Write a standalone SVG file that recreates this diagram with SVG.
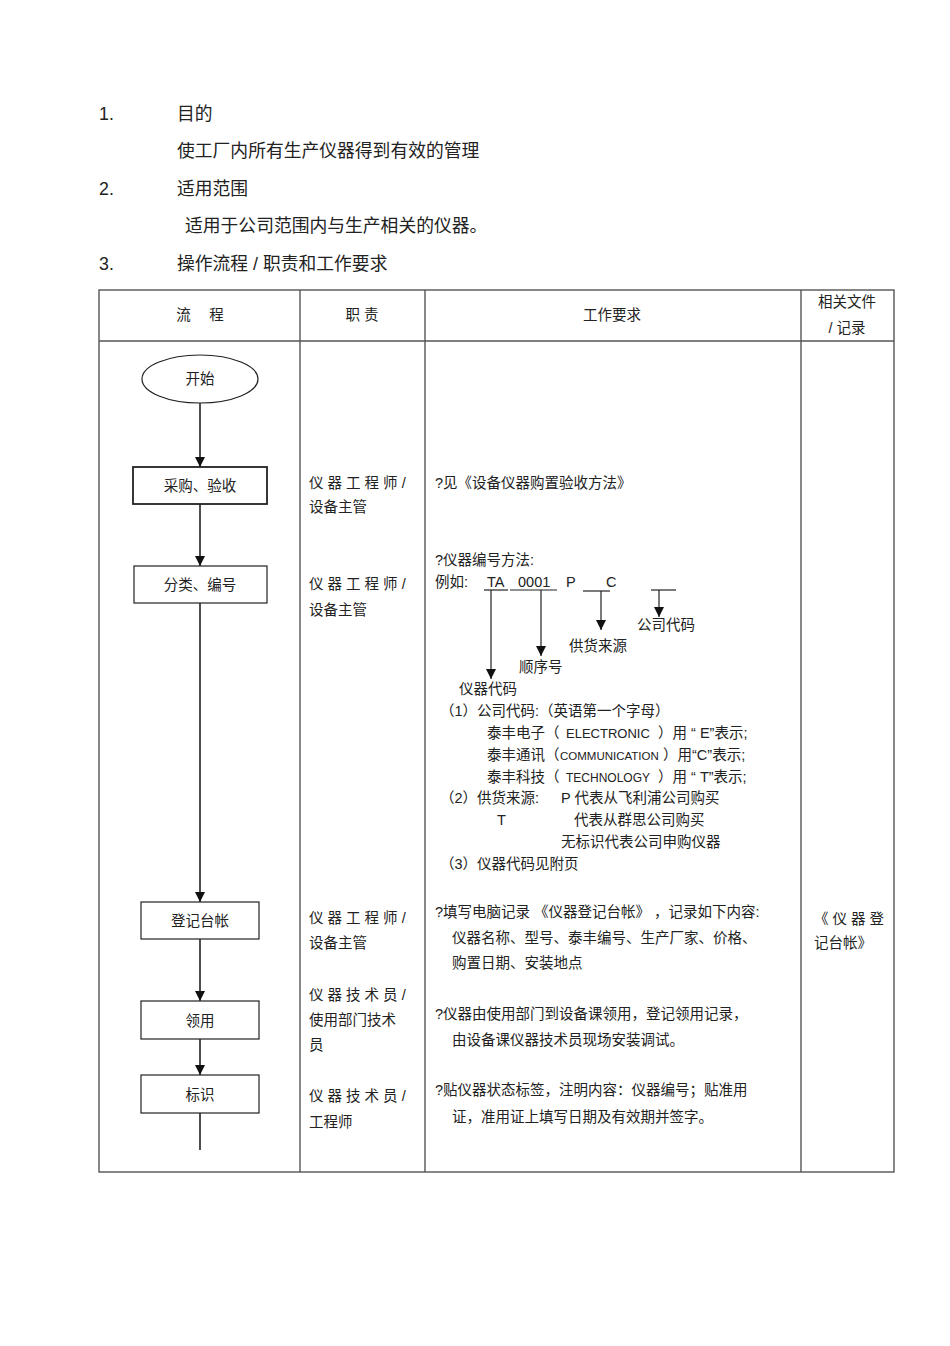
<svg xmlns="http://www.w3.org/2000/svg" width="950" height="1346" viewBox="0 0 950 1346">
<defs>
<marker id="ad" markerWidth="10" markerHeight="11" refX="10" refY="5" orient="auto" markerUnits="userSpaceOnUse" viewBox="0 0 10 10">
<path d="M0,0 L10,5 L0,10 Z" fill="#111"/>
</marker>
<style>
text{font-family:"Liberation Sans","Noto Sans CJK SC",sans-serif;fill:#222;}
.h{font-size:17.8px;}
.t{font-size:14.5px;}
.grid{stroke:#555;stroke-width:1.4;fill:none;}
.node{fill:#fff;stroke:#222;stroke-width:1.2;}
.conn{stroke:#222;stroke-width:1.6;fill:none;}
.thin{stroke:#222;stroke-width:1.2;fill:none;}
.c{text-anchor:middle;}
</style>
</defs>
<rect width="950" height="1346" fill="#fff"/>

<g id="intro">
<text class="h" x="99" y="120">1.</text>
<text class="h" x="177" y="120">目的</text>
<text class="h" x="177" y="157">使工厂内所有生产仪器得到有效的管理</text>
<text class="h" x="99" y="195">2.</text>
<text class="h" x="177" y="195">适用范围</text>
<text class="h" x="185" y="232">适用于公司范围内与生产相关的仪器。</text>
<text class="h" x="99" y="270">3.</text>
<text class="h" x="177" y="270">操作流程 / 职责和工作要求</text>
</g>

<g id="table">
<rect class="grid" x="99" y="290" width="795" height="882"/>
<line class="grid" x1="99" y1="341" x2="894" y2="341"/>
<line class="grid" x1="300" y1="290" x2="300" y2="1172"/>
<line class="grid" x1="425" y1="290" x2="425" y2="1172"/>
<line class="grid" x1="801" y1="290" x2="801" y2="1172"/>
<text class="t c" x="200" y="320">流　 程</text>
<text class="t c" x="362" y="320">职 责</text>
<text class="t c" x="612" y="320">工作要求</text>
<text class="t c" x="847" y="307">相关文件</text>
<text class="t c" x="847" y="333">/ 记录</text>
</g>

<g id="connectors">
<line class="conn" x1="200" y1="403" x2="200" y2="467" marker-end="url(#ad)"/>
<line class="conn" x1="200" y1="504" x2="200" y2="566" marker-end="url(#ad)"/>
<line class="conn" x1="200" y1="603" x2="200" y2="902" marker-end="url(#ad)"/>
<line class="conn" x1="200" y1="939" x2="200" y2="1001" marker-end="url(#ad)"/>
<line class="conn" x1="200" y1="1039" x2="200" y2="1075" marker-end="url(#ad)"/>
<line class="conn" x1="200" y1="1113" x2="200" y2="1150"/>
</g>

<g id="n-start">
<ellipse class="node" cx="200" cy="379" rx="58" ry="24"/>
<text class="t c" x="200" y="384">开始</text>
</g>
<g id="n-purchase">
<rect class="node" x="133" y="467" width="134" height="37" style="stroke-width:1.8"/>
<text class="t c" x="200" y="491">采购、验收</text>
</g>
<g id="n-classify">
<rect class="node" x="134" y="566" width="133" height="37"/>
<text class="t c" x="200" y="590">分类、编号</text>
</g>
<g id="n-register">
<rect class="node" x="141" y="902" width="118" height="37"/>
<text class="t c" x="200" y="926">登记台帐</text>
</g>
<g id="n-receive">
<rect class="node" x="141" y="1001" width="118" height="38"/>
<text class="t c" x="200" y="1026">领用</text>
</g>
<g id="n-label">
<rect class="node" x="141" y="1075" width="118" height="38"/>
<text class="t c" x="200" y="1100">标识</text>
</g>

<g id="duties">
<text class="t" x="309" y="488">仪 器 工 程 师 /</text>
<text class="t" x="309" y="512">设备主管</text>
<text class="t" x="309" y="589">仪 器 工 程 师 /</text>
<text class="t" x="309" y="615">设备主管</text>
<text class="t" x="309" y="923">仪 器 工 程 师 /</text>
<text class="t" x="309" y="948">设备主管</text>
<text class="t" x="309" y="1000">仪 器 技 术 员 /</text>
<text class="t" x="309" y="1025">使用部门技术</text>
<text class="t" x="309" y="1050">员</text>
<text class="t" x="309" y="1101">仪 器 技 术 员 /</text>
<text class="t" x="309" y="1127">工程师</text>
</g>

<g id="requirements">
<text class="t" x="435" y="488">?见《设备仪器购置验收方法》</text>
<text class="t" x="435" y="565">?仪器编号方法:</text>
<text class="t" x="435" y="587">例如:</text>
<text class="t" x="487" y="587">TA</text>
<text class="t" x="518" y="587">0001</text>
<text class="t" x="566" y="587">P</text>
<text class="t" x="606" y="587">C</text>
<text class="t" x="637" y="630">公司代码</text>
<text class="t" x="569" y="651">供货来源</text>
<text class="t" x="519" y="672">顺序号</text>
<text class="t" x="459" y="694">仪器代码</text>
<text class="t" x="440" y="716">（1）公司代码:（英语第一个字母）</text>
<text class="t" x="487" y="738">泰丰电子（</text>
<text class="t" x="566" y="738" style="font-size:13px">ELECTRONIC</text>
<text class="t" x="658" y="738">）用 “ E”表示;</text>
<text class="t" x="487" y="760">泰丰通讯（</text>
<text class="t" x="560" y="760" style="font-size:11.5px">COMMUNICATION</text>
<text class="t" x="663" y="760">）用“C”表示;</text>
<text class="t" x="487" y="782">泰丰科技（</text>
<text class="t" x="566" y="782" style="font-size:12px">TECHNOLOGY</text>
<text class="t" x="658" y="782">）用 “ T”表示;</text>
<text class="t" x="440" y="803">（2）供货来源:</text>
<text class="t" x="561" y="803">P 代表从飞利浦公司购买</text>
<text class="t" x="497" y="825">T</text>
<text class="t" x="574" y="825">代表从群思公司购买</text>
<text class="t" x="561" y="847">无标识代表公司申购仪器</text>
<text class="t" x="440" y="869">（3）仪器代码见附页</text>
<text class="t" x="435" y="917">?填写电脑记录 《仪器登记台帐》 ，记录如下内容:</text>
<text class="t" x="452" y="943">仪器名称、型号、泰丰编号、生产厂家、价格、</text>
<text class="t" x="452" y="968">购置日期、安装地点</text>
<text class="t" x="435" y="1019">?仪器由使用部门到设备课领用，登记领用记录，</text>
<text class="t" x="452" y="1045">由设备课仪器技术员现场安装调试。</text>
<text class="t" x="435" y="1095">?贴仪器状态标签，注明内容：仪器编号；贴准用</text>
<text class="t" x="452" y="1122">证，准用证上填写日期及有效期并签字。</text>
</g>

<g id="code-diagram">
<line class="thin" x1="484" y1="590" x2="508" y2="590"/>
<line class="thin" x1="510" y1="590" x2="557" y2="590"/>
<line class="thin" x1="583" y1="591" x2="610" y2="591"/>
<line class="thin" x1="651" y1="590" x2="676" y2="590"/>
<line class="thin" x1="491" y1="590" x2="491" y2="679" marker-end="url(#ad)"/>
<line class="thin" x1="541" y1="590" x2="541" y2="656" marker-end="url(#ad)"/>
<line class="thin" x1="601" y1="591" x2="601" y2="630" marker-end="url(#ad)"/>
<line class="thin" x1="659" y1="590" x2="659" y2="617" marker-end="url(#ad)"/>
</g>

<g id="records">
<text class="t" x="814" y="924">《 仪 器 登</text>
<text class="t" x="814" y="948">记台帐》</text>
</g>
</svg>
